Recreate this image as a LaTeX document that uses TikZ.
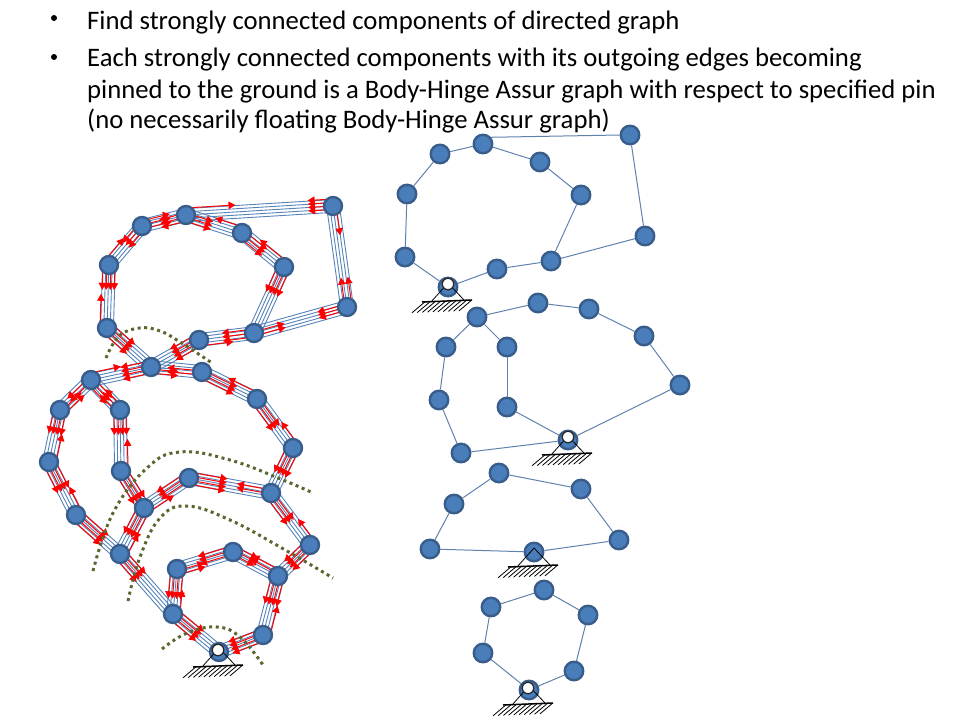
\documentclass[tikz,border=0pt]{standalone}
\usepackage{fontspec}
\setmainfont{Carlito}
\usetikzlibrary{calc,arrows.meta}
\definecolor{nfill}{RGB}{74,126,187}
\definecolor{nline}{RGB}{56,93,138}
\definecolor{bar}{RGB}{85,130,185}
\definecolor{linkc}{RGB}{95,130,175}
\definecolor{olive}{RGB}{88,104,46}
\tikzset{
  x=1pt,y=-1pt,
  joint/.style={circle,fill=nfill,draw=nline,line width=2.4pt,minimum size=18.5pt,inner sep=0pt},
  leftjoint/.style={joint,minimum size=18pt},
  link/.style={draw=linkc,line width=1pt},
  barline/.style={draw=bar,line width=0.9pt},
  redarrow/.style={draw=red,line width=1pt,-{Triangle[length=7pt,width=7.5pt]}},
  cutline/.style={draw=olive,line width=3pt,dash pattern=on 3pt off 3.6pt},
  textline/.style={anchor=base west,inner sep=0pt,font=\fontsize{26.7}{26.7}\selectfont,text=black},
  bulletmark/.style={anchor=center,circle,fill=black,minimum size=6pt,inner sep=0pt},
  pinhole/.style={circle,fill=white,draw=black!85,line width=1.3pt,minimum size=11.5pt,inner sep=0pt},
  hatchline/.style={draw=black,line width=0.8pt}
}
\newcommand{\fivebar}[2]{\foreach \o in {-6.4,-3.2,0,3.2,6.4}{\draw[barline] ($(#1)!\o pt!90:(#2)$) -- ($(#2)!\o pt!-90:(#1)$);}}
\newcommand{\redset}[4]{\foreach \o in {#4}{\draw[redarrow] ($(#1)!\o pt!90:(#2)$) -- ($(#1)!#3pt+10pt!(#2)!\o pt!90:(#2)$);}}
\newcommand{\groundat}[1]{%
  \draw[hatchline] ($(#1)+(0,-4)$) -- ($(#1)+(-17,15)$);
  \draw[hatchline] ($(#1)+(0,-4)$) -- ($(#1)+(16,13)$);
  \draw[draw=black,line width=1.5pt] ($(#1)+(-26,15)$) -- ($(#1)+(24,13)$);
  \foreach \h in {0,...,9}{\draw[hatchline] ($(#1)+(-23,14.8)+(\h*5.2,-\h*0.2)$) -- ++(-13,11);}
}
\begin{document}
\begin{tikzpicture}
\useasboundingbox (0,0) rectangle (960,720);
% text
\node[bulletmark] (b1) at (54,18) {};
\node[textline] (t1) at (87,29) {Find strongly connected components of directed graph};
\node[bulletmark] (b2) at (54,57) {};
\node[textline] (t2) at (87,66) {Each strongly connected components with its outgoing edges becoming};
\node[textline] (t3) at (87,98) {pinned to the ground is a Body-Hinge Assur graph with respect to specified pin};
\node[textline] (t4) at (87,128) {(no necessarily floating Body-Hinge Assur graph)};
% left coordinates
\foreach \n/\x/\y in {A1/333/206,A2/186/215,A3/142/226,A4/109/265,A5/107/328,X/151/367,B/199/340,C/254/333,D/347/307,E/284/267,F/242/233,G/91/380,H/60/410,I/49/462,J/76/515,K/120/554,L/121/471,M/120/410,N/144/508,O/189/478,P/271/493,Q/310/545,R/293/448,S/257/399,T/202/372,U/278/576,V/233/552,W/177/569,Y/173/614,Z/219/652,AA/263/635}{\coordinate (\n) at (\x,\y);}
\foreach \a/\b in {A2/A1,A1/D,D/C,C/B,B/X,X/A5,A5/A4,A4/A3,A3/A2,A2/F,F/E,E/C,X/G,G/H,H/I,I/J,J/K,K/N,N/L,L/M,M/G,N/O,O/P,P/R,R/S,S/T,T/X,P/Q,Q/U,U/V,V/W,W/Y,Y/Z,Z/AA,AA/U,K/Y}{\fivebar{\a}{\b}}
% red arrows: from, to, length, offsets
\redset{A1}{A2}{15}{-7,-3.5,0,3.5}
\redset{A2}{A1}{40}{7}
\redset{D}{A1}{20}{-5,2}
\redset{A1}{D}{20}{3}
\redset{D}{C}{20}{-3,0,3}
\redset{C}{D}{22}{-3,1}
\redset{C}{B}{22}{-4,0,4}
\redset{B}{C}{24}{-6}
\redset{B}{X}{20}{-6,-2,2,6}
\redset{A5}{X}{22}{-6,-2,2,6}
\redset{A5}{A4}{24}{7}
\redset{A4}{A5}{15}{-6,-2,2,6}
\redset{A4}{A3}{20}{6}
\redset{A3}{A4}{15}{-4,0,4}
\redset{A3}{A2}{20}{5,1,-3}
\redset{A2}{A3}{17}{-2,2,6}
\redset{A2}{F}{18}{-6,-2,2}
\redset{F}{A2}{20}{-6}
\redset{F}{E}{20}{-5,-1,3}
\redset{E}{F}{26}{-6}
\redset{E}{C}{20}{-6,-2,2,6}
\redset{X}{G}{20}{-6,-2,2,6}
\redset{G}{X}{22}{7}
\redset{X}{T}{18}{-6,-2}
\redset{T}{X}{25}{-1,3}
\redset{T}{S}{28}{-6,-2,2}
\redset{S}{T}{25}{-6}
\redset{S}{R}{25}{-6,-2,2}
\redset{R}{S}{18}{-6}
\redset{R}{P}{20}{-6,-2,2,6}
\redset{P}{O}{25}{-3,1}
\redset{O}{P}{28}{-6,-2,2,6}
\redset{O}{N}{25}{-6,-2,2}
\redset{N}{O}{22}{-6}
\redset{N}{K}{22}{-6,-2,2,6}
\redset{K}{N}{16}{-7}
\redset{L}{N}{25}{-6,-2,2,6}
\redset{M}{L}{15}{-6,-2,2,6}
\redset{L}{M}{22}{-7}
\redset{M}{G}{15}{-4,0,4}
\redset{G}{M}{18}{-5,-1,3}
\redset{G}{H}{20}{-3,1}
\redset{H}{G}{18}{-6,-2}
\redset{H}{I}{15}{-6,-2,2,6}
\redset{I}{H}{20}{-7}
\redset{I}{J}{22}{-6,-2,2,6}
\redset{J}{I}{18}{-7}
\redset{J}{K}{28}{-6,-2,2,6}
\redset{K}{Y}{22}{-6,-2,2,6}
\redset{P}{Q}{25}{-6,-2,2}
\redset{Q}{P}{18}{-6}
\redset{Q}{U}{20}{-6,-2,2,6}
\redset{V}{U}{15}{-2,2,6}
\redset{U}{V}{22}{-6,-2}
\redset{V}{W}{25}{-6,-2,2}
\redset{W}{V}{18}{-6,-2}
\redset{W}{Y}{20}{-6,-2,2,6}
\redset{Y}{W}{15}{-7}
\redset{Y}{Z}{25}{-6,-2,2,6}
\redset{AA}{Z}{25}{-6,-2,2,6}
\redset{U}{AA}{20}{-6,-2,2,6}
\redset{AA}{U}{22}{-7}
% left nodes
\foreach \n in {A1,A2,A3,A4,A5,X,B,C,D,E,F,G,H,I,J,K,L,M,N,O,P,Q,R,S,T,U,V,W,Y,Z,AA}{\node[leftjoint] (n\n) at (\n) {};}
% cut lines
\draw[cutline] plot[smooth,tension=0.7] coordinates {(106,358) (119,336) (140,328) (160,331) (180,342) (212,363)};
\draw[cutline] plot[smooth,tension=0.7] coordinates {(93,571) (113,513) (147,468) (180,452) (230,460) (283,480) (313,493)};
\draw[cutline] plot[smooth,tension=0.7] coordinates {(128,601) (140,557) (160,518) (187,506) (230,520) (280,547) (333,578)};
\draw[cutline] plot[smooth,tension=0.7] coordinates {(162,649) (187,633) (217,627) (240,637) (263,665)};
% ground Z
\groundat{Z}
\node[pinhole] (pZ) at ($(Z)+(-1,-2)$) {};
% right graph 1
\foreach \n/\x/\y in {a1/448/287,a2/497/269,a3/551/261,a4/645/236,a5/630/135,a6/483/144,a7/440/154,a8/407/194,a9/405/257,a10/540/162,a11/581/195}{\node[joint] (\n) at (\x,\y) {};}
\foreach \a/\b in {a1/a9,a9/a8,a8/a7,a7/a6,a5/a4,a4/a3,a3/a2,a2/a1,a6/a10,a10/a11,a11/a3}{\draw[link] (\a) -- (\b);}
\draw[link] (a6.40) -- (a5.west);
\groundat{a1}
\node[pinhole] (p1) at ($(a1)+(0,-3)$) {};
% right graph 2
\foreach \n/\x/\y in {b1/568/440,b2/461/453,b3/439/400,b4/446/347,b5/477/317,b6/538/303,b7/589/309,b8/644/336,b9/680/385,b10/507/347,b11/507/407}{\node[joint] (\n) at (\x,\y) {};}
\foreach \a/\b in {b1/b2,b2/b3,b3/b4,b4/b5,b5/b6,b6/b7,b7/b8,b8/b9,b9/b1,b5/b10,b10/b11,b11/b1}{\draw[link] (\a) -- (\b);}
\groundat{b1}
\node[pinhole] (p2) at ($(b1)+(0,-3)$) {};
% right graph 3
\foreach \n/\x/\y in {c1/534/552,c2/430/549,c3/454/504,c4/499/473,c5/581/489,c6/619/540}{\node[joint] (\n) at (\x,\y) {};}
\foreach \a/\b in {c1/c2,c2/c3,c3/c4,c4/c5,c5/c6,c6/c1}{\draw[link] (\a) -- (\b);}
\groundat{c1}
% right graph 4
\foreach \n/\x/\y in {d1/529/690,d2/483/653,d3/491/607,d4/544/590,d5/588/615,d6/574/671}{\node[joint] (\n) at (\x,\y) {};}
\foreach \a/\b in {d1/d2,d2/d3,d3/d4,d4/d5,d5/d6,d6/d1}{\draw[link] (\a) -- (\b);}
\groundat{d1}
\node[pinhole] (p4) at ($(d1)+(-1,-2)$) {};
\end{tikzpicture}
\end{document}
